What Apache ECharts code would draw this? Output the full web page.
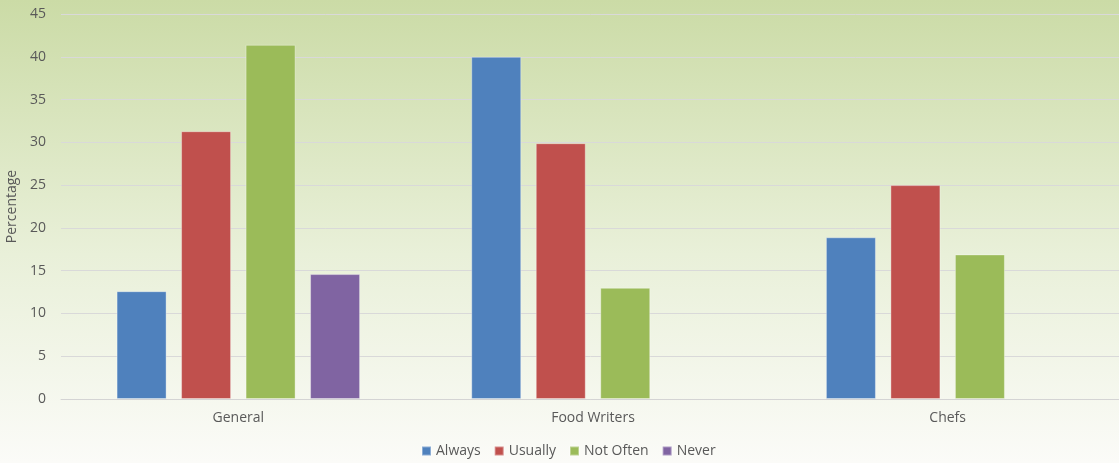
<!DOCTYPE html>
<html>
<head>
<meta charset="utf-8">
<script src="https://cdn.jsdelivr.net/npm/echarts@6/dist/echarts.min.js"></script>
<style>
  html, body { margin: 0; padding: 0; }
  #chart { width: 1119px; height: 463px; }
</style>
</head>
<body>
<div id="chart"></div>
<script>
  let categories = ['General', 'Food Writers', 'Chefs'];
  let seriesNames = ['Always', 'Usually', 'Not Often', 'Never'];
  let always = [12.6, 40, 18.9];
  let usually = [31.3, 29.9, 25];
  let notOften = [41.4, 13, 16.9];
  let never = [14.6, null, null];
  let colors = ['#4f81bd', '#c0504d', '#9bbb59', '#8064a2'];

  let myChart = echarts.init(document.getElementById('chart'));
  let font = '"Open Sans", sans-serif';
  let values = [always, usually, notOften, never];

  let option = {
    backgroundColor: new echarts.graphic.LinearGradient(0, 0, 0, 1, [
      { offset: 0, color: '#cbdba6' },
      { offset: 0.55, color: '#e9f0d9' },
      { offset: 1, color: '#fbfbf8' }
    ]),
    color: colors,
    textStyle: { fontFamily: font },
    legend: {
      data: seriesNames,
      bottom: 0,
      left: 416,
      icon: 'rect',
      itemWidth: 9,
      itemHeight: 9,
      itemGap: 13,
      itemTextGap: 4,
      textStyle: { color: '#595959', fontSize: 14, fontFamily: font }
    },
    grid: {
      left: 61,
      right: -6,
      top: 14,
      bottom: 64,
      outerBoundsMode: 'none'
    },
    xAxis: {
      type: 'category',
      data: categories,
      axisTick: { show: false },
      axisLine: { lineStyle: { color: '#d4d4d4' } },
      axisLabel: { color: '#595959', fontSize: 14, margin: 12, fontFamily: font }
    },
    yAxis: {
      type: 'value',
      min: 0,
      max: 45,
      interval: 5,
      name: 'Percentage',
      nameLocation: 'middle',
      nameGap: 38,
      nameTextStyle: { color: '#595959', fontSize: 14, fontFamily: font },
      axisLabel: { color: '#595959', fontSize: 14, margin: 15, fontFamily: font },
      splitLine: { lineStyle: { color: '#d9d9d9' } }
    },
    series: seriesNames.map(function (name, i) {
      return {
        name: name,
        type: 'bar',
        data: values[i],
        barWidth: 50,
        barGap: '29%',
        itemStyle: { borderColor: 'rgba(255,255,255,0.35)', borderWidth: 1 }
      };
    })
  };
  myChart.setOption(option);
</script>
</body>
</html>
